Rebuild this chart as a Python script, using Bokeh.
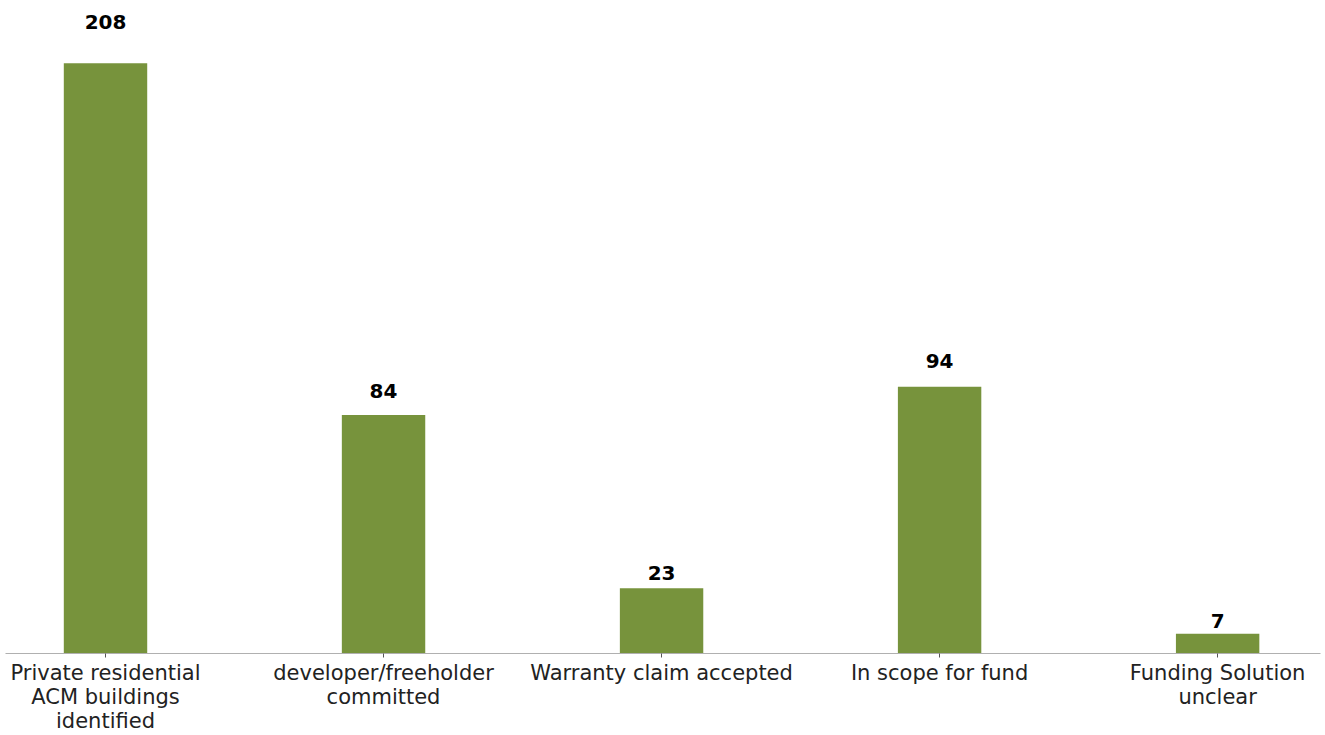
from bokeh.plotting import figure
from bokeh.models import FixedTicker, Range1d, ColumnDataSource
from bokeh.embed import file_html
from bokeh.resources import INLINE
from bokeh.core.properties import value

categories = [
    "Private residential\nACM buildings\nidentified",
    "developer/freeholder\ncommitted",
    "Warranty claim accepted",
    "In scope for fund",
    "Funding Solution\nunclear",
]
counts = [208, 84, 23, 94, 7]

xs = list(range(len(categories)))
label_y = [v * 1.05 + 4.2 for v in counts]
src = ColumnDataSource(dict(x=xs, top=counts, ly=label_y, txt=[str(v) for v in counts]))

p = figure(width=1325, height=735, output_backend="svg", toolbar_location=None,
           x_range=Range1d(-0.3597, 4.370), y_range=Range1d(0, 230.1),
           min_border_left=5, min_border_right=5, min_border_top=0, min_border_bottom=78)
p.outline_line_color = None
p.background_fill_color = "white"
p.xgrid.visible = False
p.ygrid.visible = False
p.yaxis.visible = False

p.vbar(x="x", top="top", bottom=0, width=0.3, source=src, color="#77933C", line_color=None)
p.text(x="x", y="ly", text="txt", source=src, text_align="center", text_baseline="middle",
       text_font=value("DejaVu Sans"), text_font_style="bold", text_font_size="20px", text_color="black")

ax = p.xaxis[0]
ax.ticker = FixedTicker(ticks=xs)
ax.major_label_overrides = {i: c for i, c in zip(xs, categories)}
ax.minor_tick_line_color = None
ax.major_tick_out = 4
ax.major_tick_in = 0
ax.major_tick_line_color = "#555555"
ax.axis_line_color = "#b0b0b0"
ax.axis_line_width = 1.2
ax.major_label_text_font = "DejaVu Sans"
ax.major_label_text_font_size = "21px"
ax.major_label_text_line_height = 1.01
ax.major_label_text_color = "#222222"
ax.major_label_standoff = 3

open("out.html", "w").write(file_html(p, INLINE))
